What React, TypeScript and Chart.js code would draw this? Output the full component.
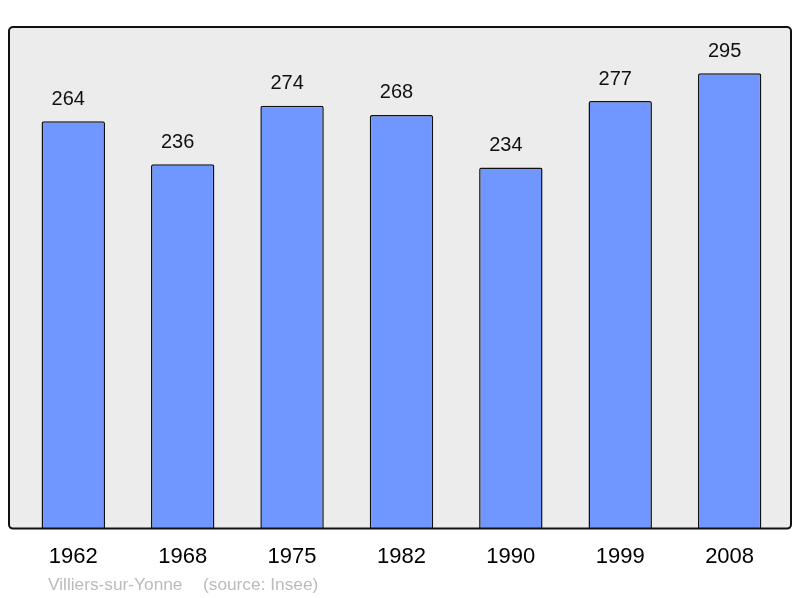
import React, { useEffect, useRef } from "react";
import { Chart, registerables } from "chart.js";

Chart.register(...registerables);

const years = ["1962", "1968", "1975", "1982", "1990", "1999", "2008"];
const population = [264, 236, 274, 268, 234, 277, 295];
const footerName = "Villiers-sur-Yonne";
const footerSource = "(source: Insee)";

const FONT = "'Liberation Sans', Arial, sans-serif";

export default function App() {
  const ref = useRef<HTMLCanvasElement | null>(null);

  useEffect(() => {
    document.body.style.margin = "0";
    const canvas = ref.current;
    if (!canvas) return;

    const backgroundBox = {
      id: "backgroundBox",
      beforeDraw(chart: any) {
        const { ctx, chartArea } = chart;
        const x0 = 9;
        const x1 = 791;
        const y0 = chartArea.top;
        const y1 = chartArea.bottom;
        ctx.save();
        ctx.beginPath();
        ctx.roundRect(x0, y0, x1 - x0, y1 - y0, 4);
        ctx.fillStyle = "#ececec";
        ctx.fill();
        ctx.restore();
      },
      afterDatasetsDraw(chart: any) {
        const { ctx, chartArea } = chart;
        const x0 = 9;
        const x1 = 791;
        const y0 = chartArea.top;
        const y1 = chartArea.bottom;
        ctx.save();
        ctx.beginPath();
        ctx.roundRect(x0, y0, x1 - x0, y1 - y0, 4);
        ctx.lineWidth = 2;
        ctx.strokeStyle = "#111";
        ctx.stroke();

        // value labels
        const meta = chart.getDatasetMeta(0);
        ctx.fillStyle = "#111";
        ctx.font = `20px ${FONT}`;
        ctx.textAlign = "center";
        ctx.textBaseline = "middle";
        meta.data.forEach((bar: any, i: number) => {
          ctx.fillText(String(population[i]), bar.x - 5, bar.y - 22);
        });

        // footer
        ctx.fillStyle = "#bbbbbb";
        ctx.font = `17.3px ${FONT}`;
        ctx.textAlign = "left";
        ctx.fillText(footerName, 48, 585);
        ctx.fillText(footerSource, 203, 585);
        ctx.restore();
      },
    };

    const chart = new Chart(canvas, {
      type: "bar",
      data: {
        labels: years,
        datasets: [
          {
            data: population,
            backgroundColor: "#7096ff",
            borderColor: "#111",
            borderWidth: 1.5,
            borderRadius: 2,
            borderSkipped: "bottom",
            categoryPercentage: 1,
            barPercentage: 0.58,
          },
        ],
      },
      options: {
        animation: false,
        responsive: false,
        maintainAspectRatio: false,
        layout: { padding: { left: 18.6, right: 15.7, top: 27, bottom: 13 } },
        plugins: {
          legend: { display: false },
          tooltip: { enabled: false },
          title: { display: false },
        },
        scales: {
          x: {
            grid: { display: false, drawTicks: false },
            border: { display: false },
            ticks: {
              color: "#000",
              font: { family: FONT, size: 22 },
              padding: 15,
              maxRotation: 0,
              autoSkip: false,
            },
          },
          y: {
            display: false,
            min: 0,
            max: 325,
          },
        },
      },
      plugins: [backgroundBox],
    });

    return () => chart.destroy();
  }, []);

  return (
    <div style={{ width: 800, height: 598 }}>
      <canvas ref={ref} width={800} height={598} style={{ display: "block" }} />
    </div>
  );
}
